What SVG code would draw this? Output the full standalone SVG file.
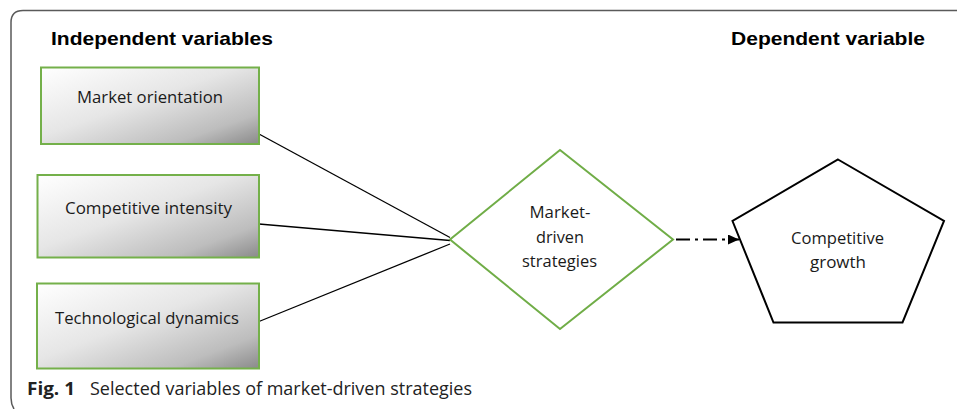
<svg xmlns="http://www.w3.org/2000/svg" width="957" height="409" viewBox="0 0 957 409">
<style>
.frame{fill:none;stroke:#5a5a5a;stroke-width:1.5}
.box{fill:url(#g);stroke:#74b04a;stroke-width:2}
.dia{fill:#fff;stroke:#70ad47;stroke-width:2}
.pent{fill:#fff;stroke:#000;stroke-width:2}
.conn{stroke:#000;stroke-width:1.3;fill:none}
.arr{stroke:#000;stroke-width:2;fill:none;stroke-dasharray:14 5 3 5}
.h{font-family:"Liberation Sans",Arial,sans-serif;font-weight:bold;font-size:18.5px;fill:#000}
.t{font-family:"Open Sans","Liberation Sans",sans-serif;font-size:15.5px;fill:#1a1a1a}
.c{font-family:"Open Sans","Liberation Sans",sans-serif;font-size:18px;fill:#222}
</style>
<defs>
<linearGradient id="g" x1="0" y1="0" x2="1" y2="1">
<stop offset="0" stop-color="#ffffff"/>
<stop offset="0.45" stop-color="#e6e6e6"/>
<stop offset="0.8" stop-color="#bdbdbd"/>
<stop offset="1" stop-color="#8a8a8a"/>
</linearGradient>
<marker id="ah" viewBox="0 0 11 10" refX="11" refY="5" markerWidth="11" markerHeight="10" markerUnits="userSpaceOnUse" orient="auto">
<path d="M0 0 L11 5 L0 10 Z" fill="#000"/>
</marker>
</defs>
<path class="frame" d="M957 10.5 H23 Q11 10.5 11 22.5 V398 Q11 404 14 409"/>
<text class="h" x="51" y="45" textLength="222" lengthAdjust="spacingAndGlyphs">Independent variables</text>
<text class="h" x="731" y="45" textLength="194" lengthAdjust="spacingAndGlyphs">Dependent variable</text>
<g id="connectors">
<line class="conn" x1="259" y1="134" x2="450" y2="237.5"/>
<line class="conn" x1="259" y1="224" x2="450" y2="240.5"/>
<line class="conn" x1="259" y1="321.5" x2="450" y2="244"/>
<line class="arr" x1="676" y1="239.5" x2="739" y2="239.5" marker-end="url(#ah)"/>
</g>
<g id="market-orientation">
<rect class="box" x="41" y="67.5" width="218" height="76.5"/>
<text class="t" x="77" y="103" textLength="146" lengthAdjust="spacingAndGlyphs">Market orientation</text>
</g>
<g id="competitive-intensity">
<rect class="box" x="37.5" y="175" width="221.5" height="82.5"/>
<text class="t" x="65" y="214" textLength="167" lengthAdjust="spacingAndGlyphs">Competitive intensity</text>
</g>
<g id="technological-dynamics">
<rect class="box" x="37" y="283.5" width="222" height="85"/>
<text class="t" x="55" y="323.5" textLength="184" lengthAdjust="spacingAndGlyphs">Technological dynamics</text>
</g>
<g id="market-driven-strategies">
<polygon class="dia" points="560,150 673,239.5 560,329 450,239.5"/>
<text class="t" x="529.5" y="218" textLength="61" lengthAdjust="spacingAndGlyphs">Market-</text>
<text class="t" x="536" y="242.5" textLength="48" lengthAdjust="spacingAndGlyphs">driven</text>
<text class="t" x="522" y="267" textLength="75" lengthAdjust="spacingAndGlyphs">strategies</text>
</g>
<g id="competitive-growth">
<polygon class="pent" points="838,159.5 944,221 902.5,322.5 773.5,322.5 732.5,221"/>
<text class="t" x="791" y="243.5" textLength="93" lengthAdjust="spacingAndGlyphs">Competitive</text>
<text class="t" x="810" y="267.5" textLength="56" lengthAdjust="spacingAndGlyphs">growth</text>
</g>
<text class="c" x="27" y="395" font-weight="bold" textLength="48" lengthAdjust="spacingAndGlyphs">Fig. 1</text>
<text class="c" x="90" y="395" textLength="382" lengthAdjust="spacingAndGlyphs">Selected variables of market-driven strategies</text>
</svg>
